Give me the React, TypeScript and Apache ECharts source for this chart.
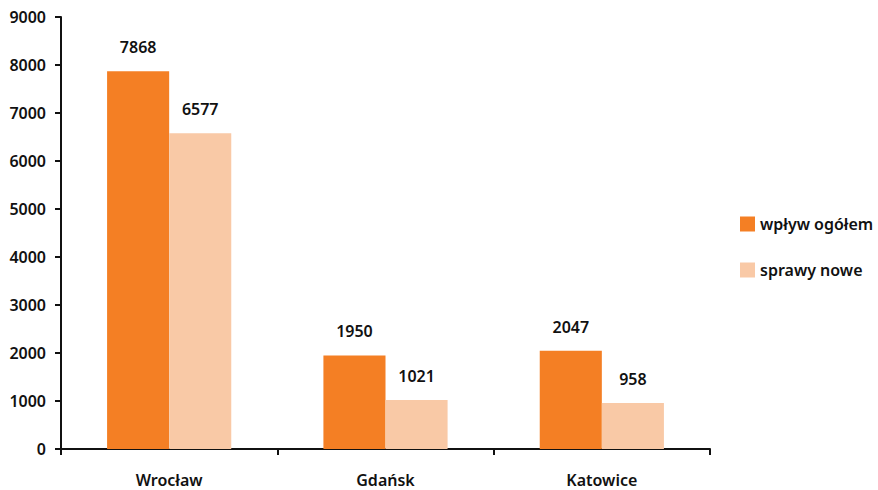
import React, { useEffect, useRef } from "react";
import * as echarts from "echarts";

const categories = ["Wrocław", "Gdańsk", "Katowice"];
const wplywOgolem = [7868, 1950, 2047];
const sprawyNowe = [6577, 1021, 958];
const seriesNames = ["wpływ ogółem", "sprawy nowe"];

const FONT = "'Noto Sans', sans-serif";

export default function App() {
  const ref = useRef<HTMLDivElement>(null);
  useEffect(() => {
    const chart = echarts.init(ref.current!, null, { renderer: "svg" });
    const label = {
      show: true,
      position: "top",
      distance: 16,
      color: "#111",
      fontSize: 16,
      fontWeight: 600,
      fontFamily: FONT,
    };
    chart.setOption({
      animation: false,
      backgroundColor: "#fff",
      textStyle: { fontFamily: FONT },
      grid: { left: 61, right: 168, top: 17, bottom: 41, containLabel: false },
      legend: {
        orient: "vertical",
        left: 735,
        top: 211,
        itemWidth: 15,
        itemHeight: 15,
        itemGap: 30,
        icon: "rect",
        textStyle: { fontSize: 16, fontWeight: 600, color: "#111", fontFamily: FONT },
        data: seriesNames,
      },
      xAxis: {
        type: "category",
        data: categories,
        axisLine: { lineStyle: { color: "#111", width: 2 } },
        axisTick: { show: true, length: 6, lineStyle: { color: "#111", width: 2 } },
        axisLabel: { color: "#111", fontSize: 16, fontWeight: 600, margin: 23, fontFamily: FONT },
      },
      yAxis: {
        type: "value",
        min: 0,
        max: 9000,
        interval: 1000,
        splitLine: { show: false },
        axisLine: { show: true, lineStyle: { color: "#111", width: 2 } },
        axisTick: { show: true, length: 6, lineStyle: { color: "#111", width: 2 } },
        axisLabel: {
          color: "#111",
          fontSize: 16,
          fontWeight: 600,
          margin: 15,
          fontFamily: FONT,
          formatter: (v: number) => String(v),
        },
      },
      series: [
        {
          name: seriesNames[0],
          type: "bar",
          data: wplywOgolem,
          itemStyle: { color: "#F47F24" },
          barGap: "0%",
          barCategoryGap: "42.6%",
          label,
        },
        {
          name: seriesNames[1],
          type: "bar",
          data: sprawyNowe,
          itemStyle: { color: "#F9C9A6" },
          barGap: "0%",
          barCategoryGap: "42.6%",
          label,
        },
      ],
    });
    return () => chart.dispose();
  }, []);
  return <div ref={ref} style={{ width: 878, height: 490, position: "absolute", left: 0, top: 0 }} />;
}
